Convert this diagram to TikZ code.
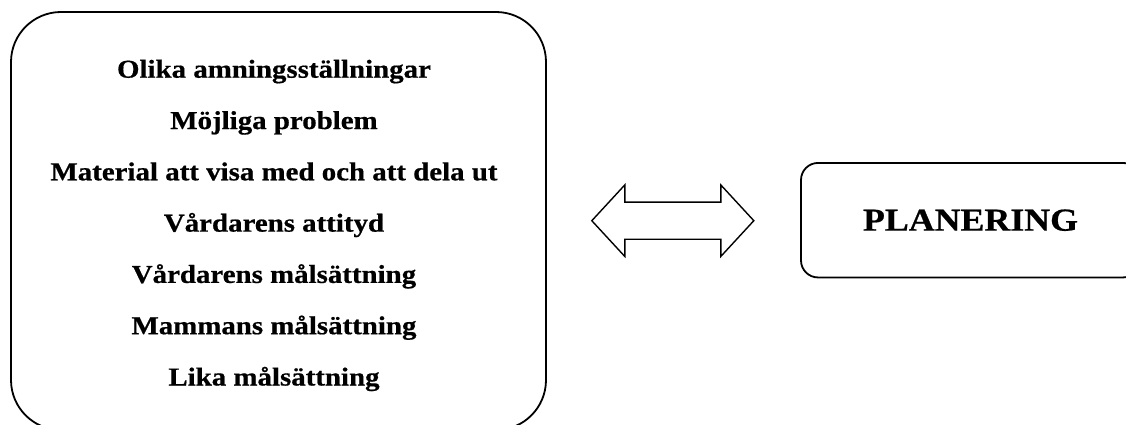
\documentclass[tikz,border=0pt]{standalone}
\usepackage{fontspec}
\setmainfont{Liberation Serif}[FakeStretch=1.12,BoldFeatures={FakeBold=0.6}]
\usetikzlibrary{shapes.arrows}

\tikzset{
  roundbox/.style={draw,line width=1.8pt},
  listtext/.style={align=center,font=\fontsize{25.8}{51.3}\selectfont\bfseries},
}

\begin{document}
\begin{tikzpicture}[x=1pt,y=-1pt]
\clip (0,0) rectangle (1126,425);
\node (topics) at (278.5,221) [roundbox,rounded corners=50pt,minimum width=535pt,minimum height=418pt] {};
\node (list) at (274,225.5) [listtext] {Olika amningsställningar\\ Möjliga problem\\ Material att visa med och att dela ut\\ Vårdarens attityd\\ Vårdarens målsättning\\ Mammans målsättning\\ Lika målsättning};
\node (plan) at (970.5,220.2) [roundbox,rounded corners=17pt,minimum width=339pt,minimum height=114.5pt,font=\fontsize{32}{36}\selectfont\bfseries] {PLANERING};
\node (arrow) at (672.8,220.7) [double arrow,draw,line width=1.4pt,inner sep=0pt,text height=17.85pt,text depth=17.85pt,minimum height=162pt,double arrow head extend=17.2pt,double arrow tip angle=94.6] {};
\end{tikzpicture}
\end{document}
